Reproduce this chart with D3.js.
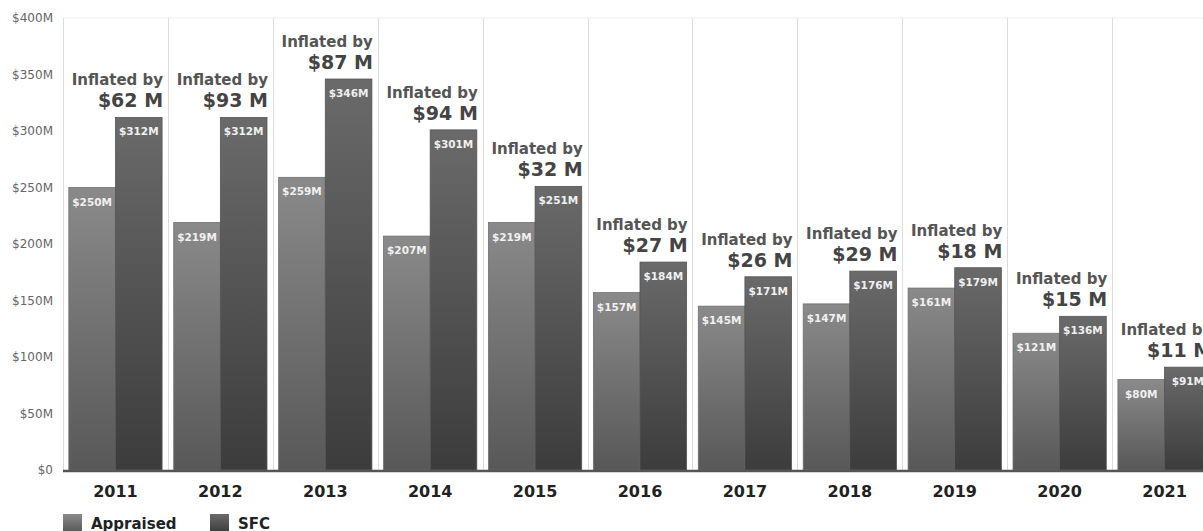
<!DOCTYPE html>
<html>
<head>
<meta charset="utf-8">
<script src="https://cdn.jsdelivr.net/npm/d3@7/dist/d3.min.js"></script>
<style>
  html, body { margin: 0; padding: 0; background: #fff; }
  svg { display: block; font-family: "DejaVu Sans", Verdana, sans-serif; }
</style>
</head>
<body>
<svg id="chart" width="1203" height="531"></svg>
<script>
// Annual totals, in millions of dollars
const years = ["2011", "2012", "2013", "2014", "2015", "2016", "2017", "2018", "2019", "2020", "2021"];
const appraised = [250, 219, 259, 207, 219, 157, 145, 147, 161, 121, 80];
const sfc = [312, 312, 346, 301, 251, 184, 171, 176, 179, 136, 91];
const seriesNames = ["Appraised", "SFC"];
const yTicks = [0, 50, 100, 150, 200, 250, 300, 350, 400];

const svg = d3.select("#chart");
const W = 1203, H = 531;
const margin = { left: 63, top: 18, bottom: 61 };
const plotRight = 1217; // the last category runs past the right edge
const plotBottom = H - margin.bottom;

const rows = years.map((y, i) => ({ year: y, values: [appraised[i], sfc[i]] }));

const x = d3.scaleBand().domain(years).range([margin.left, plotRight]).paddingInner(0).paddingOuter(0);
const xs = d3.scaleBand().domain(seriesNames).range([0, x.bandwidth()]).paddingInner(0).paddingOuter(0.125);
const y = d3.scaleLinear().domain([0, 400]).range([plotBottom, margin.top]);

// Gradients for the two series
const defs = svg.append("defs");
const grads = [
  { id: "g-appraised", top: "#8a8a8a", bottom: "#585858" },
  { id: "g-sfc", top: "#6a6a6a", bottom: "#3c3c3c" }
];
grads.forEach(g => {
  const lg = defs.append("linearGradient").attr("id", g.id)
    .attr("x1", 0).attr("y1", 0).attr("x2", 0).attr("y2", 1);
  lg.append("stop").attr("offset", "0%").attr("stop-color", g.top);
  lg.append("stop").attr("offset", "100%").attr("stop-color", g.bottom);
});

// Top border line of the plot
svg.append("line")
  .attr("x1", margin.left).attr("x2", W)
  .attr("y1", y(400)).attr("y2", y(400))
  .attr("stroke", "#f0f0f0").attr("stroke-width", 1);

// Vertical separators between categories
svg.append("g").selectAll("line")
  .data(years)
  .join("line")
  .attr("x1", d => Math.round(x(d)) + 0.5)
  .attr("x2", d => Math.round(x(d)) + 0.5)
  .attr("y1", y(400)).attr("y2", plotBottom)
  .attr("stroke", "#dcdcdc").attr("stroke-width", 1);

// Y axis labels
const yAxis = d3.axisLeft(y).tickValues(yTicks)
  .tickFormat(d => d === 0 ? "$0" : `$${d}M`)
  .tickSize(0).tickPadding(10);
svg.append("g")
  .attr("transform", `translate(${margin.left},0)`)
  .call(yAxis)
  .call(g => g.select(".domain").remove())
  .call(g => g.selectAll("text")
    .attr("fill", "#666").attr("font-size", 12)
    .attr("font-family", "'DejaVu Sans', Verdana, sans-serif"));

// Bars
const groups = svg.append("g").selectAll("g")
  .data(rows)
  .join("g")
  .attr("transform", d => `translate(${x(d.year)},0)`);

groups.selectAll("rect")
  .data(d => d.values.map((v, i) => ({ name: seriesNames[i], v, i })))
  .join("rect")
  .attr("x", d => xs(d.name))
  .attr("width", xs.bandwidth())
  .attr("y", d => y(d.v))
  .attr("height", d => y(0) - y(d.v))
  .attr("fill", d => `url(#${grads[d.i].id})`)
  .attr("stroke", d => d.i === 0 ? "#707070" : "#555")
  .attr("stroke-width", 0.8);

// Value labels inside bars
groups.selectAll("text.val")
  .data(d => d.values.map((v, i) => ({ name: seriesNames[i], v })))
  .join("text")
  .attr("class", "val")
  .attr("x", d => xs(d.name) + xs.bandwidth() / 2)
  .attr("y", d => y(d.v) + 18)
  .attr("text-anchor", "middle")
  .attr("fill", "#f0f0f0")
  .attr("font-size", 10.5)
  .attr("font-weight", "bold")
  .text(d => `$${d.v}M`);

// "Inflated by" annotations above the SFC bars
const ann = groups.append("g")
  .attr("transform", d => `translate(${xs("SFC") + xs.bandwidth() + 1},${y(d.values[1])})`);
ann.append("text")
  .attr("x", 0).attr("y", -32)
  .attr("text-anchor", "end")
  .attr("fill", "#555")
  .attr("font-size", 15)
  .attr("font-weight", "bold")
  .text("Inflated by");
ann.append("text")
  .attr("x", 0).attr("y", -10)
  .attr("text-anchor", "end")
  .attr("fill", "#444")
  .attr("font-size", 19)
  .attr("font-weight", "bold")
  .text(d => `$${d.values[1] - d.values[0]} M`);

// Baseline
svg.append("line")
  .attr("x1", margin.left).attr("x2", W)
  .attr("y1", plotBottom + 1).attr("y2", plotBottom + 1)
  .attr("stroke", "#555").attr("stroke-width", 2.5);

// Category labels
const xAxis = d3.axisBottom(x).tickSize(0).tickPadding(16);
svg.append("g")
  .attr("transform", `translate(0,${plotBottom})`)
  .call(xAxis)
  .call(g => g.select(".domain").remove())
  .call(g => g.selectAll("text")
    .attr("fill", "#222").attr("font-size", 16).attr("font-weight", "bold")
    .attr("font-family", "'DejaVu Sans', Verdana, sans-serif"));

// Legend
const legendItems = [
  { name: "Appraised", x: 63, grad: grads[0].id },
  { name: "SFC", x: 210, grad: grads[1].id }
];
const legend = svg.append("g").selectAll("g")
  .data(legendItems)
  .join("g")
  .attr("transform", d => `translate(${d.x},514)`);
legend.append("rect")
  .attr("width", 19).attr("height", 18)
  .attr("fill", d => `url(#${d.grad})`);
legend.append("text")
  .attr("x", 28).attr("y", 15)
  .attr("fill", "#222").attr("font-size", 15).attr("font-weight", "bold")
  .text(d => d.name);
</script>
</body>
</html>
